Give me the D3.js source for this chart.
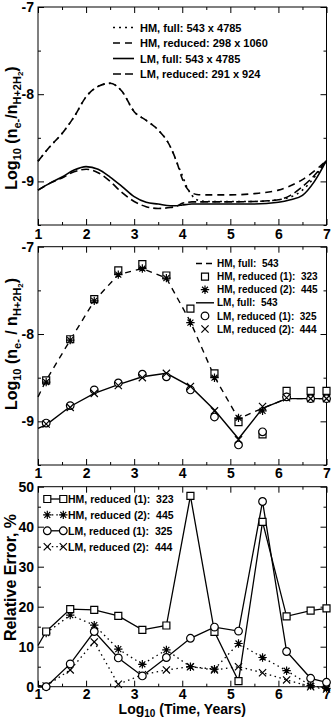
<!DOCTYPE html>
<html>
<head>
<meta charset="utf-8">
<script src="https://cdnjs.cloudflare.com/ajax/libs/d3/7.8.5/d3.min.js"></script>
<style>
  body { margin: 0; background: #fff; }
  text { font-family: "Liberation Sans", Arial, Helvetica, sans-serif; font-weight: bold; fill: #000; }
</style>
</head>
<body>
<div id="chart"></div>
<script>
// Data
//= ================================
// top panel: smooth curves
var timeFine = [1, 1.25, 1.5, 1.75, 2, 2.25, 2.5, 2.75, 3, 3.25, 3.5, 3.75, 3.9, 4, 4.1, 4.2, 4.3, 4.5, 5, 5.5, 6, 6.25, 6.5, 6.75, 7];
var hmFull    = [-8.77, -8.60, -8.45, -8.26, -8.03, -7.91, -7.875, -7.97, -8.20, -8.30, -8.41, -8.60, -8.80, -8.93, -9.07, -9.16, -9.21, -9.23, -9.23, -9.23, -9.21, -9.18, -9.10, -8.95, -8.76];
var hmReduced = [-8.77, -8.60, -8.45, -8.26, -8.03, -7.91, -7.875, -7.97, -8.20, -8.30, -8.41, -8.60, -8.80, -8.97, -9.08, -9.13, -9.15, -9.155, -9.155, -9.14, -9.10, -9.05, -8.98, -8.88, -8.76];
var lmFull    = [-9.10, -9.02, -8.95, -8.87, -8.83, -8.86, -8.95, -9.06, -9.175, -9.24, -9.26, -9.28, -9.28, -9.27, -9.265, -9.26, -9.26, -9.26, -9.26, -9.26, -9.24, -9.21, -9.16, -9.00, -8.76];
var lmReduced = [-9.10, -9.02, -8.96, -8.89, -8.86, -8.90, -9.00, -9.13, -9.23, -9.29, -9.31, -9.30, -9.28, -9.25, -9.24, -9.235, -9.235, -9.235, -9.235, -9.23, -9.21, -9.16, -9.06, -8.93, -8.76];

// middle + bottom panels: sampled times
var timeCoarse = [1.17, 1.67, 2.17, 2.67, 3.17, 3.67, 4.17, 4.67, 5.17, 5.67, 6.17, 6.67, 7.0];
var timeLine = [1].concat(timeCoarse);
var hmFullLine = [-8.72, -8.53, -8.07, -7.62, -7.32, -7.25, -7.36, -7.86, -8.49, -8.97, -8.85, -8.74, -8.74, -8.74];
var lmFullLine = [-9.08, -9.04, -8.83, -8.68, -8.58, -8.49, -8.45, -8.60, -8.87, -9.20, -8.85, -8.74, -8.74, -8.74];
var hmRed1 = [-8.53, -8.06, -7.60, -7.27, -7.20, -7.33, -7.71, -8.45, -9.01, -9.15, -8.65, -8.65, -8.65];
var hmRed2 = [-8.55, -8.07, -7.62, -7.32, -7.25, -7.36, -7.87, -8.50, -8.96, -8.88, -8.72, -8.74, -8.74];
var lmRed1 = [-9.02, -8.82, -8.64, -8.56, -8.46, -8.49, -8.64, -8.95, -9.27, -9.12, -8.72, -8.74, -8.74];
var lmRed2 = [-9.03, -8.84, -8.68, -8.59, -8.50, -8.45, -8.60, -8.88, -9.21, -8.83, -8.73, -8.74, -8.74];

// bottom panel: relative error, %
var errHM1 = [10.3, 13.8, 19.4, 19.2, 17.7, 14.2, 15.3, 47.7, 13.7, 1.4, 41.2, 17.6, 19.0, 19.6];
var errHM2 = [13.4, 17.9, 15.4, 9.4, 5.6, 9.2, 5.0, 4.4, 10.8, 7.3, 4.0, 0.3, -0.4];
var errLM1 = [0.3, 0, 5.7, 13.8, 7.2, 2.7, 7.3, 12.1, 14.9, 13.9, 46.3, 8.8, 2.1, 1.1];
var errLM2 = [0.2, 4.2, 11.2, 0.6, 3.0, 4.2, 5.0, 4.2, 5.0, 3.5, 1.7, 0, -0.6];

var xMajor = [1, 2, 3, 4, 5, 6, 7];
var xMinor = [1.5, 2.5, 3.5, 4.5, 5.5, 6.5];
var logMajor = [-7, -8, -9];
var logMinor = [-7.5, -8.5, -9.5];
var errMajor = [0, 10, 20, 30, 40, 50];
var errMinor = [5, 15, 25, 35, 45];

// Step 1: Set up chart
//= ================================
var svgWidth = 332;
var svgHeight = 721;
var plotLeft = 38;
var plotRight = 326.5;

var svg = d3.select("#chart")
  .append("svg")
  .attr("width", svgWidth)
  .attr("height", svgHeight);

var xScale = d3.scaleLinear().domain([1, 7]).range([plotLeft, plotRight]);
var y1 = d3.scaleLinear().domain([-9.5, -7]).range([225, 7]);
var y2 = d3.scaleLinear().domain([-9.5, -7]).range([465, 246.7]);
var y3 = d3.scaleLinear().domain([0, 50]).range([686.7, 486.7]);

// Step 2: frames with inward ticks on all sides
//= ================================
function cleanAxis(g) {
  g.select(".domain").remove();
  g.selectAll(".tick line").attr("stroke", "#000").attr("stroke-width", 1);
  g.selectAll("text").attr("font-size", 14).attr("font-family", null);
}

function drawFrame(yScale, yMajor, yMinor, xPad) {
  var top = yScale.range()[1];
  var bottom = yScale.range()[0];
  var g = svg.append("g");

  g.append("g").attr("transform", `translate(0,${bottom})`)
    .call(d3.axisBottom(xScale).tickValues(xMajor).tickSize(-6).tickPadding(xPad).tickFormat(d3.format("d")))
    .call(cleanAxis);
  g.append("g").attr("transform", `translate(0,${bottom})`)
    .call(d3.axisBottom(xScale).tickValues(xMinor).tickSize(-3).tickFormat(""))
    .call(cleanAxis);
  g.append("g").attr("transform", `translate(0,${top})`)
    .call(d3.axisTop(xScale).tickValues(xMajor).tickSize(-6).tickFormat(""))
    .call(cleanAxis);
  g.append("g").attr("transform", `translate(0,${top})`)
    .call(d3.axisTop(xScale).tickValues(xMinor).tickSize(-3).tickFormat(""))
    .call(cleanAxis);

  g.append("g").attr("transform", `translate(${plotLeft},0)`)
    .call(d3.axisLeft(yScale).tickValues(yMajor).tickSize(-6).tickPadding(4).tickFormat(d => String(d)))
    .call(cleanAxis);
  g.append("g").attr("transform", `translate(${plotLeft},0)`)
    .call(d3.axisLeft(yScale).tickValues(yMinor).tickSize(-3).tickFormat(""))
    .call(cleanAxis);
  g.append("g").attr("transform", `translate(${plotRight},0)`)
    .call(d3.axisRight(yScale).tickValues(yMajor).tickSize(-6).tickFormat(""))
    .call(cleanAxis);
  g.append("g").attr("transform", `translate(${plotRight},0)`)
    .call(d3.axisRight(yScale).tickValues(yMinor).tickSize(-3).tickFormat(""))
    .call(cleanAxis);

  g.append("rect")
    .attr("x", plotLeft)
    .attr("y", top)
    .attr("width", plotRight - plotLeft)
    .attr("height", bottom - top)
    .attr("fill", "none")
    .attr("stroke", "#000")
    .attr("stroke-width", 1);
}

drawFrame(y1, logMajor, logMinor, 4);
drawFrame(y2, logMajor, logMinor, 3.5);
drawFrame(y3, errMajor, errMinor, 2);

// markers
function markerPath(type) {
  if (type === "square") return "M-3.5,-3.5H3.5V3.5H-3.5Z";
  if (type === "circle") return d3.symbol(d3.symbolCircle, 46)();
  if (type === "star") {
    var r = 4.2, d = r * Math.SQRT1_2;
    return `M${-r},0H${r}M0,${-r}V${r}M${-d},${-d}L${d},${d}M${-d},${d}L${d},${-d}`;
  }
  var c = 3.6;
  return `M${-c},${-c}L${c},${c}M${-c},${c}L${c},${-c}`;
}

function drawMarkers(xs, ys, yScale, type) {
  svg.append("g").selectAll("path")
    .data(d3.zip(xs, ys))
    .enter()
    .append("path")
    .attr("transform", d => `translate(${xScale(d[0])},${yScale(d[1])})`)
    .attr("d", markerPath(type))
    .attr("fill", type === "square" || type === "circle" ? "#fff" : "none")
    .attr("stroke", "#000")
    .attr("stroke-width", 1.2);
}

function drawLine(xs, ys, yScale, dash, width, curve) {
  var line = d3.line()
    .x(d => xScale(d[0]))
    .y(d => yScale(d[1]))
    .curve(curve || d3.curveLinear);
  svg.append("path")
    .datum(d3.zip(xs, ys))
    .attr("d", line)
    .attr("fill", "none")
    .attr("stroke", "#000")
    .attr("stroke-width", width)
    .attr("stroke-dasharray", dash);
}

// Step 3: top panel
//= ================================
drawLine(timeFine, lmFull, y1, null, 1.6, d3.curveMonotoneX);
drawLine(timeFine, lmReduced, y1, "8,4", 1.6, d3.curveMonotoneX);
drawLine(timeFine, hmReduced, y1, "7,5", 1.6, d3.curveMonotoneX);
drawLine(timeFine, hmFull, y1, "2,4", 1.6, d3.curveMonotoneX);

var legend1 = [
  {label: "HM, full: 543 x 4785", dash: "2,4"},
  {label: "HM, reduced: 298 x 1060", dash: "7,5"},
  {label: "LM, full: 543 x 4785", dash: null},
  {label: "LM, reduced: 291 x 924", dash: "8,4"}
];
legend1.forEach(function(d, i) {
  var yy = 27.5 + i * 15.5;
  svg.append("line").attr("x1", 113).attr("x2", 134).attr("y1", yy).attr("y2", yy)
    .attr("stroke", "#000").attr("stroke-width", 1.6).attr("stroke-dasharray", d.dash);
  svg.append("text").attr("x", 140).attr("y", yy + 4).attr("font-size", 11).text(d.label);
});

// Step 4: middle panel
//= ================================
drawLine(timeLine, hmFullLine, y2, "6,5", 1.4);
drawLine(timeLine, lmFullLine, y2, null, 1.4);
drawMarkers(timeCoarse, hmRed1, y2, "square");
drawMarkers(timeCoarse, hmRed2, y2, "star");
drawMarkers(timeCoarse, lmRed1, y2, "circle");
drawMarkers(timeCoarse, lmRed2, y2, "cross");

var legend2 = [
  {label: "HM, full:  543", dash: "6,4"},
  {label: "HM, reduced (1):  323", marker: "square"},
  {label: "HM, reduced (2):  445", marker: "star"},
  {label: "LM, full:  543", dash: null},
  {label: "LM, reduced (1):  325", marker: "circle"},
  {label: "LM, reduced (2):  444", marker: "cross"}
];
legend2.forEach(function(d, i) {
  var yy = 263.5 + i * 13.1;
  if (d.marker) {
    svg.append("path").attr("transform", `translate(205,${yy})`).attr("d", markerPath(d.marker))
      .attr("fill", d.marker === "square" || d.marker === "circle" ? "#fff" : "none")
      .attr("stroke", "#000").attr("stroke-width", 1.2);
  } else {
    svg.append("line").attr("x1", 196).attr("x2", 214).attr("y1", yy).attr("y2", yy)
      .attr("stroke", "#000").attr("stroke-width", 1.4).attr("stroke-dasharray", d.dash);
  }
  svg.append("text").attr("x", 217).attr("y", yy + 3.6).attr("font-size", 10)
    .style("white-space", "pre").text(d.label);
});

// Step 5: bottom panel
//= ================================
drawLine(timeCoarse, errHM2, y3, "1.5,3.5", 1.3);
drawLine(timeCoarse, errLM2, y3, "1.5,3.5", 1.3);
drawLine(timeLine, errHM1, y3, null, 1.3);
drawLine(timeLine, errLM1, y3, null, 1.3);
drawMarkers(timeCoarse, errHM2, y3, "star");
drawMarkers(timeCoarse, errLM2, y3, "cross");
drawMarkers(timeCoarse, errHM1.slice(1), y3, "square");
drawMarkers(timeCoarse, errLM1.slice(1), y3, "circle");

var legend3 = [
  {label: "HM, reduced (1):  323", marker: "square", dash: null},
  {label: "HM, reduced (2):  445", marker: "star", dash: "1.5,3"},
  {label: "LM, reduced (1):  325", marker: "circle", dash: null},
  {label: "LM, reduced (2):  444", marker: "cross", dash: "1.5,3"}
];
legend3.forEach(function(d, i) {
  var yy = 499 + i * 15.9;
  svg.append("line").attr("x1", 47.3).attr("x2", 63.3).attr("y1", yy).attr("y2", yy)
    .attr("stroke", "#000").attr("stroke-width", 1.3).attr("stroke-dasharray", d.dash);
  [47.3, 63.3].forEach(function(mx) {
    svg.append("path").attr("transform", `translate(${mx},${yy})`).attr("d", markerPath(d.marker))
      .attr("fill", d.marker === "square" || d.marker === "circle" ? "#fff" : "none")
      .attr("stroke", "#000").attr("stroke-width", 1.2);
  });
  svg.append("text").attr("x", 68).attr("y", yy + 3.8).attr("font-size", 10.5)
    .style("white-space", "pre").text(d.label);
});

// Step 6: axis titles
//= ================================
function logLabel(cx, cy, spaced) {
  var t = svg.append("text")
    .attr("transform", `translate(16.5,${cy}) rotate(-90)`)
    .attr("text-anchor", "middle")
    .attr("font-size", 16)
    .style("white-space", "pre");
  t.append("tspan").text("Log");
  t.append("tspan").attr("font-size", 11).attr("dy", 4).text("10");
  t.append("tspan").attr("dy", -4).text(" (n");
  t.append("tspan").attr("font-size", 11).attr("dy", 4).text("e-");
  t.append("tspan").attr("dy", -4).text(spaced ? " / n" : "/n");
  t.append("tspan").attr("font-size", 11).attr("dy", 4).text("H+2H");
  t.append("tspan").attr("font-size", 8).attr("dy", 2).text("2");
  t.append("tspan").attr("dy", -6).text(")");
}
logLabel(16.5, 128, false);
logLabel(16.5, 344, true);

svg.append("text")
  .attr("transform", "translate(16,577.5) rotate(-90)")
  .attr("text-anchor", "middle")
  .attr("font-size", 16)
  .text("Relative Error, %");

var xTitle = svg.append("text")
  .attr("x", (plotLeft + plotRight) / 2)
  .attr("y", 714)
  .attr("text-anchor", "middle")
  .attr("font-size", 14)
  .style("white-space", "pre");
xTitle.append("tspan").text("Log");
xTitle.append("tspan").attr("font-size", 10).attr("dy", 3).text("10");
xTitle.append("tspan").attr("dy", -3).text(" (Time, Years)");
</script>
</body>
</html>
